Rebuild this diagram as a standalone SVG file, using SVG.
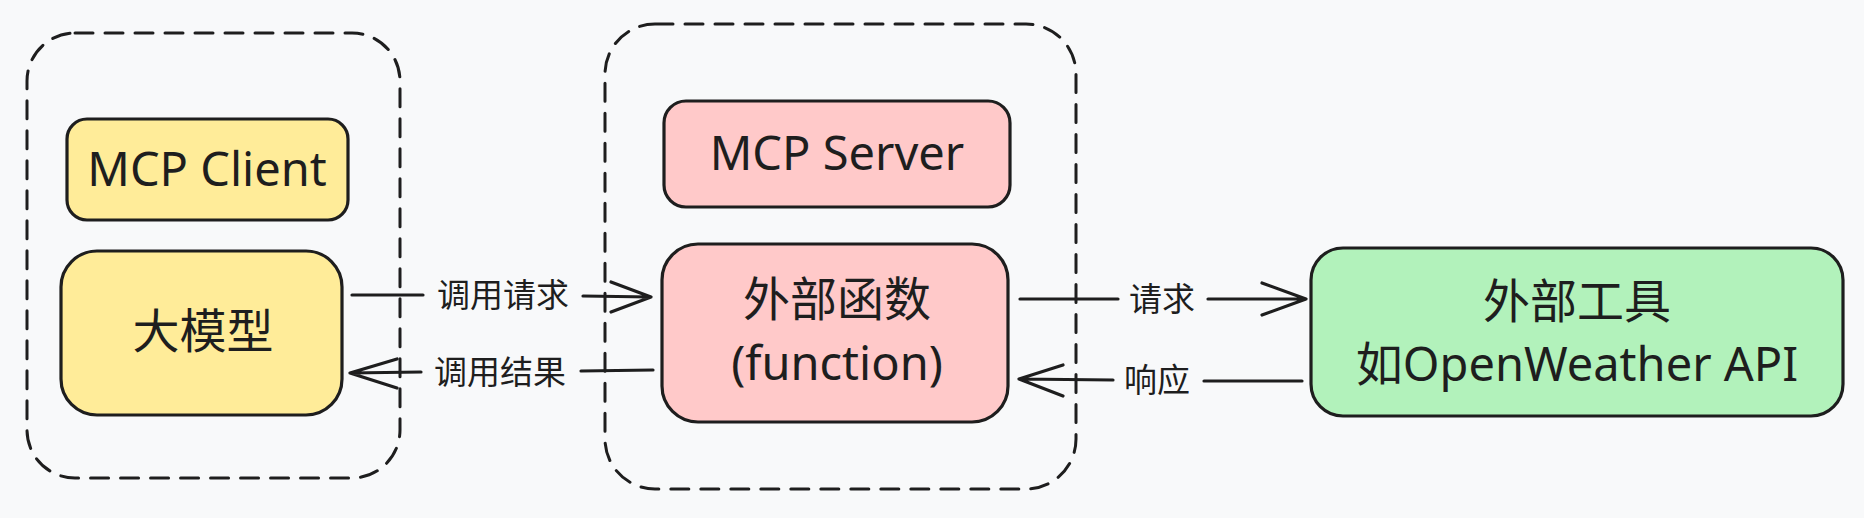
<svg xmlns="http://www.w3.org/2000/svg" width="1864" height="518" viewBox="0 0 1864 518">
<style>
.bg{fill:#f8f9fa}
.group{fill:none;stroke:#1e1e1e;stroke-width:3;stroke-dasharray:18 12;stroke-linecap:round}
.node{stroke:#1e1e1e;stroke-width:3.2}
.yellow{fill:#ffec99}
.pink{fill:#ffc9c9}
.green{fill:#b2f2bb}
.t{font-family:"Noto Sans","Noto Sans CJK SC",sans-serif;fill:#1e1e1e;text-anchor:middle;dominant-baseline:central}
.big{font-size:47px}
.lbl{font-size:33px}
.edge{fill:none;stroke:#1e1e1e;stroke-width:3.2;stroke-linecap:round;stroke-linejoin:round}
</style>
<rect class="bg" x="0" y="0" width="1864" height="518"/>
<g id="client-group">
<rect class="group" x="27" y="33" width="373" height="445" rx="48"/>
</g>
<g id="server-group">
<rect class="group" x="605" y="24" width="471" height="465" rx="50"/>
</g>
<g id="mcp-client">
<rect class="node yellow" x="67" y="119" width="281" height="101" rx="20"/>
<text class="t big" x="207" y="168">MCP Client</text>
</g>
<g id="llm">
<rect class="node yellow" x="61" y="251" width="281" height="164" rx="36"/>
<text class="t big" x="203" y="330">大模型</text>
</g>
<g id="mcp-server">
<rect class="node pink" x="664" y="101" width="346" height="106" rx="22"/>
<text class="t big" x="837" y="152">MCP Server</text>
</g>
<g id="ext-func">
<rect class="node pink" x="662" y="244" width="346" height="178" rx="36"/>
<text class="t big" x="837" y="298">外部函数</text>
<text class="t big" x="837" y="362">(function)</text>
</g>
<g id="ext-tool">
<rect class="node green" x="1311" y="248" width="532" height="168" rx="32"/>
<text class="t big" x="1577" y="300">外部工具</text>
<text class="t big" x="1577" y="363">如OpenWeather API</text>
</g>
<g id="connectors">
<path class="edge" d="M352 295 L423 295 M583 296 L651 297 M611 282 L651 297 L611 312"/>
<text class="t lbl" x="503" y="294">调用请求</text>
<path class="edge" d="M653 370 L581 371 M421 372 L350 373 M397 359 L350 373 L397 388"/>
<text class="t lbl" x="500" y="371">调用结果</text>
<path class="edge" d="M1020 299 L1118 299 M1208 299 L1306 299 M1262 283 L1306 299 L1262 315"/>
<text class="t lbl" x="1162" y="298">请求</text>
<path class="edge" d="M1302 381 L1204 381 M1113 380 L1019 379 M1063 365 L1019 379 L1063 396"/>
<text class="t lbl" x="1157" y="379">响应</text>
</g>
</svg>
